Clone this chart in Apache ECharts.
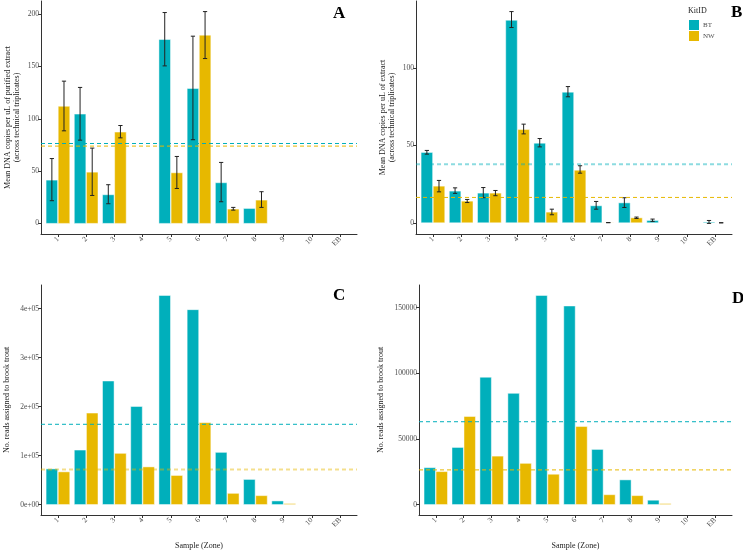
<!DOCTYPE html>
<html>
<head>
<meta charset="utf-8">
<script src="https://cdn.jsdelivr.net/npm/echarts@6/dist/echarts.min.js"></script>
<style>
  html, body { margin: 0; padding: 0; background: #fff; }
  #chart { width: 743px; height: 551px; }
</style>
</head>
<body>
<div id="chart"></div>
<script>
// 样本（区域）
var categories = ['1', '2', '3', '4', '5', '6', '7', '8', '9', '10', 'EB'];
var kits = ['BT', 'NW'];

// A: 纯化提取物 DNA 拷贝数
var btA = [41.4, 104.5, 27.4, null, 175.8, 129, 38.9, 14.3, null, null, null];
var btALow = [21.7, 79.6, 18.8, null, 150.6, 80, 20.7, null, null, null, null];
var btAHigh = [62, 130, 37, null, 201.6, 179, 58.3, null, null, null, null];
var nwA = [112, 49, 87.3, null, 48.4, 180, 13.7, 22.3, null, null, null];
var nwALow = [88.5, 26.7, 81.8, null, 33.4, 157.6, 12.7, 15.3, null, null, null];
var nwAHigh = [136, 72, 93.6, null, 64, 202.5, 15.3, 30.3, null, null, null];
var meanA = [76.4, 73.9];

// B: 提取物 DNA 拷贝数
var btB = [45.5, 20.5, 19.2, 131, 51.5, 84.5, 11, 12.9, 1.5, null, 0.5];
var btBLow = [44.4, 19, 16.2, 126.3, 49.1, 81.5, 8.8, 9.9, 0.9, null, -0.4];
var btBHigh = [46.8, 22.6, 22.8, 136.6, 54.5, 88.1, 13.8, 16.2, 2.4, null, 1.5];
var nwB = [23.7, 14, 19.2, 60.3, 6.9, 34, 0.1, 3.2, null, null, 0];
var nwBLow = [20, 13.1, 17.5, 57.5, 5.2, 32.1, 0.05, 2.8, null, null, 0];
var nwBHigh = [27.4, 15.1, 20.9, 63.8, 8.8, 36.9, 0.15, 3.7, null, null, 0];
var meanB = [37.9, 16.4];

// C / D: 分配到溪红点鲑的 reads 数
var btC = [72800, 111300, 252300, 200300, 427000, 398000, 106600, 51300, 7400, null, null];
var nwC = [66800, 186800, 104600, 76900, 59400, 167300, 22900, 18200, 2000, null, null];
var meanC = [163900, 71500];
var btD = [28100, 43500, 97000, 84700, 159300, 151300, 42000, 18800, 3300, null, null];
var nwD = [25100, 67100, 36900, 31400, 23100, 59500, 7500, 6800, 750, null, null];
var meanD = [63100, 26400];

// 刻度
var yTicksA = [0, 50, 100, 150, 200];
var yTicksB = [0, 50, 100];
var yTicksC = [0, 100000, 200000, 300000, 400000];
var yTickLabelsC = ['0e+00', '1e+05', '2e+05', '3e+05', '4e+05'];
var yTicksD = [0, 50000, 100000, 150000];
var yTickLabelsD = ['0', '50000', '100000', '150000'];

var colors = ['#00AFBB', '#E7B800'];
var font = 'Liberation Serif';
var dodge = 0.215;   // 每根柱子中心偏移
var barHalf = 0.205; // 柱子半宽
var capHalf = 0.075; // 误差棒帽半宽
var xMin = -0.6, xMax = categories.length - 1 + 0.6;

var chart = echarts.init(document.getElementById('chart'));

//y 轴范围：与 ggplot 一样上下各扩展 5%
function yExtent(lists) {
  var lo = 0, hi = 0;
  lists.forEach(function (arr) {
    arr.forEach(function (v) {
      if (v == null) return;
      if (v < lo) lo = v;
      if (v > hi) hi = v;
    });
  });
  var pad = (hi - lo) * 0.05;
  return [lo - pad, hi + pad];
}

function barData(vals) {
  var out = [];
  vals.forEach(function (v, i) { if (v != null) out.push([i, v]); });
  return out;
}
function errData(lows, highs) {
  var out = [];
  lows.forEach(function (v, i) { if (v != null) out.push([i, v, highs[i]]); });
  return out;
}

function barRender(offset) {
  return function (params, api) {
    var x = api.value(0) + offset;
    var p0 = api.coord([x - barHalf, 0]);
    var p1 = api.coord([x + barHalf, api.value(1)]);
    return {
      type: 'rect',
      shape: { x: p0[0], y: p1[1], width: p1[0] - p0[0], height: p0[1] - p1[1] },
      style: { fill: api.visual('color'), stroke: 'rgba(255,255,255,0.6)', lineWidth: 0.8 }
    };
  };
}

function errRender(offset) {
  return function (params, api) {
    var x = api.value(0) + offset;
    var lo = api.coord([x, api.value(1)]);
    var hi = api.coord([x, api.value(2)]);
    var half = api.size([capHalf, 0])[0];
    var st = { stroke: '#222', lineWidth: 1 };
    return {
      type: 'group',
      children: [
        { type: 'line', shape: { x1: lo[0], y1: lo[1], x2: hi[0], y2: hi[1] }, style: st },
        { type: 'line', shape: { x1: lo[0] - half, y1: lo[1], x2: lo[0] + half, y2: lo[1] }, style: st },
        { type: 'line', shape: { x1: hi[0] - half, y1: hi[1], x2: hi[0] + half, y2: hi[1] }, style: st }
      ]
    };
  };
}

var grids = [
  { left: 41, top: 1, width: 316, height: 233 },
  { left: 416, top: 1, width: 316, height: 233 },
  { left: 41, top: 285, width: 316, height: 233 },
  { left: 419, top: 285, width: 313, height: 233 }
];

var panels = [
  { bt: btA, nw: nwA, err: [[btALow, btAHigh], [nwALow, nwAHigh]], mean: meanA, ticks: yTicksA, labels: null,
    name: 'Mean DNA copies per uL of purified extract\n(across technical triplicates)', gap: 20, wide: [false, false], xname: '' },
  { bt: btB, nw: nwB, err: [[btBLow, btBHigh], [nwBLow, nwBHigh]], mean: meanB, ticks: yTicksB, labels: null,
    name: 'Mean DNA copies per uL of extract\n(across technical triplicates)', gap: 20, wide: [true, false], xname: '' },
  { bt: btC, nw: nwC, err: null, mean: meanC, ticks: yTicksC, labels: yTickLabelsC,
    name: 'No. reads assigned to brook trout', gap: 30, wide: [false, true], xname: 'Sample (Zone)' },
  { bt: btD, nw: nwD, err: null, mean: meanD, ticks: yTicksD, labels: yTickLabelsD,
    name: 'No. reads assigned to brook trout', gap: 34, wide: [false, false], xname: 'Sample (Zone)' }
];

var xAxes = [], yAxes = [], series = [];
var axisStyle = { color: '#333', width: 1 };
var catTicks = categories.map(function (c, i) { return i; });

panels.forEach(function (p, g) {
  var lists = [p.bt, p.nw];
  if (p.err) lists = lists.concat([p.err[0][0], p.err[0][1], p.err[1][0], p.err[1][1]]);
  var ext = yExtent(lists);

  xAxes.push({
    type: 'value', gridIndex: g, min: xMin, max: xMax,
    name: p.xname, nameLocation: 'middle', nameGap: 27,
    nameTextStyle: { fontFamily: font, fontSize: 8, color: '#222' },
    axisLine: { show: true, onZero: false, lineStyle: axisStyle },
    axisTick: { show: true, length: 3, lineStyle: axisStyle, customValues: catTicks },
    axisLabel: {
      customValues: catTicks,
      formatter: function (v) { return categories[Math.round(v)]; },
      rotate: 45, margin: 4, fontFamily: font, fontSize: 7.5, color: '#4d4d4d'
    },
    splitLine: { show: false }
  });

  yAxes.push({
    type: 'value', gridIndex: g, min: ext[0], max: ext[1],
    name: p.name, nameLocation: 'middle', nameGap: p.gap, nameRotate: 90,
    nameTextStyle: { fontFamily: font, fontSize: 8, color: '#222', lineHeight: 9 },
    axisLine: { show: true, onZero: false, lineStyle: axisStyle },
    axisTick: { show: true, length: 3, lineStyle: axisStyle, customValues: p.ticks },
    axisLabel: {
      customValues: p.ticks,
      formatter: function (v) {
        var i = p.ticks.indexOf(v);
        return p.labels ? p.labels[i] : String(v);
      },
      margin: 2, fontFamily: font, fontSize: 7.5, color: '#4d4d4d'
    },
    splitLine: { show: false }
  });

  [p.bt, p.nw].forEach(function (vals, k) {
    series.push({
      name: kits[k], type: 'custom', xAxisIndex: g, yAxisIndex: g,
      itemStyle: { color: colors[k] },
      renderItem: barRender(k === 0 ? -dodge : dodge),
      encode: { x: 0, y: 1 }, data: barData(vals), z: 2
    });
  });

  if (p.err) {
    p.err.forEach(function (e, k) {
      series.push({
        type: 'custom', xAxisIndex: g, yAxisIndex: g,
        renderItem: errRender(k === 0 ? -dodge : dodge),
        encode: { x: 0, y: [1, 2] }, data: errData(e[0], e[1]), z: 3
      });
    });
  }

  p.mean.forEach(function (m, k) {
    series.push({
      type: 'line', xAxisIndex: g, yAxisIndex: g, symbol: 'none', silent: true,
      data: [[xMin, m], [xMax, m]], z: 4,
      lineStyle: p.wide[k]
        ? { color: colors[k], width: 2, type: [4, 3], opacity: 0.45 }
        : { color: colors[k], width: 1, type: [4, 3] }
    });
  });
});

var letter = { fontFamily: font, fontSize: 17, fontWeight: 'bold', color: '#000' };

chart.setOption({
  animation: false,
  backgroundColor: '#ffffff',
  title: [
    { text: 'A', left: 333, top: 5, padding: 0, textStyle: letter },
    { text: 'B', left: 731, top: 4, padding: 0, textStyle: letter },
    { text: 'C', left: 333, top: 287, padding: 0, textStyle: letter },
    { text: 'D', left: 732, top: 290, padding: 0, textStyle: letter },
    { text: 'KitID', left: 688, top: 7, padding: 0, textStyle: { fontFamily: font, fontSize: 8, fontWeight: 'normal', color: '#222' } }
  ],
  legend: {
    data: kits, orient: 'vertical', left: 689, top: 20, padding: 0,
    icon: 'rect', itemWidth: 10, itemHeight: 10, itemGap: 1,
    textStyle: { fontFamily: font, fontSize: 7, color: '#4d4d4d', padding: [0, 0, 0, -1] }
  },
  grid: grids,
  xAxis: xAxes,
  yAxis: yAxes,
  series: series
});
</script>
</body>
</html>
